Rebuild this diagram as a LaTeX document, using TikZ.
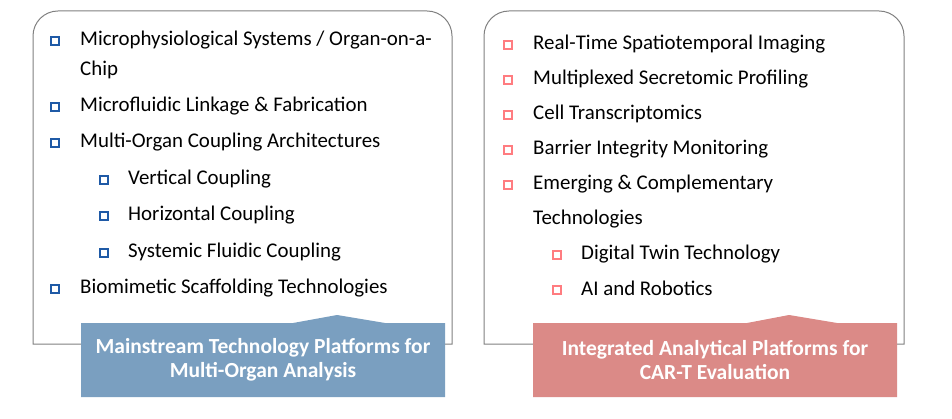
\documentclass[tikz,border=0pt]{standalone}
\usepackage{fontspec}
\setmainfont{Carlito}
\usepackage{xcolor}
\usetikzlibrary{positioning}

\definecolor{bulletblue}{HTML}{1F5AA6}
\definecolor{bulletpink}{HTML}{FF7C80}
\definecolor{tagblue}{HTML}{7A9FC0}
\definecolor{tagpink}{HTML}{DB8A87}
\definecolor{panelgray}{HTML}{808080}

\begin{document}
\begin{tikzpicture}[x=1pt,y=-1pt,
  panel/.style={draw=panelgray,line width=1pt},
  item/.style={anchor=base west,inner sep=0pt,
    font=\fontsize{20.9}{30}\selectfont},
  sq/.style={draw=#1,line width=2pt,minimum size=8.5pt,inner sep=0pt},
  tagtext/.style={text=white,align=center,inner sep=0pt,
    font=\fontsize{21.5}{24}\selectfont\bfseries}]
\useasboundingbox (0,0) rectangle (952,419);

% left panel
\draw[panel] (33,344) [rounded corners=25pt] -- (33,11) -- (452,11) [sharp corners] -- (452,344) -- cycle;
\node[sq=bulletblue] (bl1) at (55,41) {};
\node[item] (tl1) at (80,46) {Microphysiological Systems / Organ-on-a-};
\node[item] (tl1b) at (80,76) {Chip};
\node[sq=bulletblue] (bl2) at (55,107) {};
\node[item] (tl2) at (80,112) {Microfluidic Linkage \& Fabrication};
\node[sq=bulletblue] (bl3) at (55,143) {};
\node[item] (tl3) at (80,148) {Multi-Organ Coupling Architectures};
\node[sq=bulletblue] (bl4) at (104,180) {};
\node[item] (tl4) at (128,185) {Vertical Coupling};
\node[sq=bulletblue] (bl5) at (104,216) {};
\node[item] (tl5) at (128,221) {Horizontal Coupling};
\node[sq=bulletblue] (bl6) at (104,253) {};
\node[item] (tl6) at (128,258) {Systemic Fluidic Coupling};
\node[sq=bulletblue] (bl7) at (55,289) {};
\node[item] (tl7) at (80,294) {Biomimetic Scaffolding Technologies};

\fill[tagblue] (81,323) -- (293,323) -- (337,315) -- (385,323) -- (445,323)
  -- (445,397) -- (81,397) -- cycle;
\node[tagtext] (tagl) at (263,360) {Mainstream Technology Platforms for\\Multi-Organ Analysis};

% right panel
\draw[panel] (484,344) [rounded corners=25pt] -- (484,11) -- (904,11) [sharp corners] -- (904,344) -- cycle;
\node[sq=bulletpink] (br1) at (508,45) {};
\node[item] (tr1) at (533,50) {Real-Time Spatiotemporal Imaging};
\node[sq=bulletpink] (br2) at (508,80) {};
\node[item] (tr2) at (533,85) {Multiplexed Secretomic Profiling};
\node[sq=bulletpink] (br3) at (508,115) {};
\node[item] (tr3) at (533,120) {Cell Transcriptomics};
\node[sq=bulletpink] (br4) at (508,150) {};
\node[item] (tr4) at (533,155) {Barrier Integrity Monitoring};
\node[sq=bulletpink] (br5) at (508,185) {};
\node[item] (tr5) at (533,190) {Emerging \& Complementary};
\node[item] (tr5b) at (533,225) {Technologies};
\node[sq=bulletpink] (br6) at (557,255) {};
\node[item] (tr6) at (581,260) {Digital Twin Technology};
\node[sq=bulletpink] (br7) at (557,290) {};
\node[item] (tr7) at (581,295) {AI and Robotics};

\fill[tagpink] (533,323) -- (747,323) -- (789,315) -- (837,323) -- (897,323)
  -- (897,397) -- (533,397) -- cycle;
\node[tagtext] (tagr) at (715,360) {Integrated Analytical Platforms for\\CAR-T Evaluation};
\end{tikzpicture}
\end{document}
